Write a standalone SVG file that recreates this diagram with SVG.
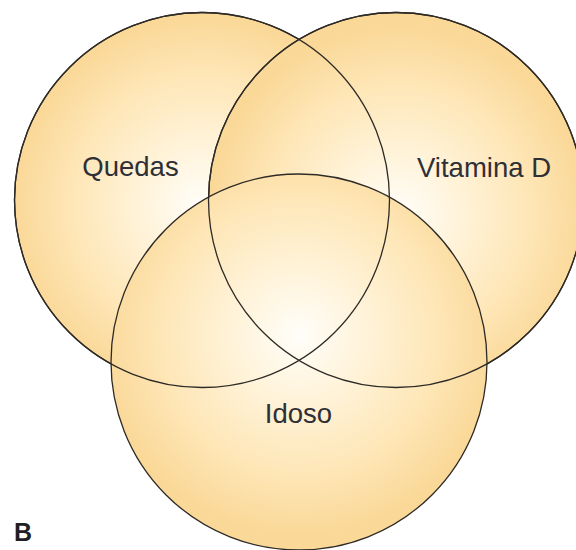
<svg xmlns="http://www.w3.org/2000/svg" width="576" height="550" viewBox="0 0 576 550">
  <style>
    .set { stroke: #2e2a26; stroke-width: 1.3; }
    .lbl { font-family: "Liberation Sans", Arial, sans-serif; font-size: 27.5px; fill: #2f2f36; text-anchor: middle; }
    .tag { font-family: "Liberation Sans", Arial, sans-serif; font-size: 25px; font-weight: bold; fill: #1f1f24; }
  </style>
  <defs>
    <radialGradient id="glowLeft" cx="202" cy="205" r="188" gradientUnits="userSpaceOnUse">
      <stop offset="0" stop-color="#fffefa"/>
      <stop offset="0.3" stop-color="#fff4dc"/>
      <stop offset="0.7" stop-color="#fee6b6"/>
      <stop offset="1" stop-color="#fad898"/>
    </radialGradient>
    <radialGradient id="glowRight" cx="398" cy="215" r="188" gradientUnits="userSpaceOnUse">
      <stop offset="0" stop-color="#fffefa"/>
      <stop offset="0.3" stop-color="#fff4dc"/>
      <stop offset="0.7" stop-color="#fee6b6"/>
      <stop offset="1" stop-color="#fad898"/>
    </radialGradient>
    <radialGradient id="glowBottom" cx="299" cy="335" r="200" gradientUnits="userSpaceOnUse">
      <stop offset="0" stop-color="#fffefa"/>
      <stop offset="0.3" stop-color="#fff4dc"/>
      <stop offset="0.7" stop-color="#fee6b6"/>
      <stop offset="1" stop-color="#fad898"/>
    </radialGradient>
  </defs>
  <rect width="576" height="550" fill="#ffffff"/>

  <g id="quedas">
    <circle class="set" cx="202" cy="200" r="187.5" fill="url(#glowLeft)"/>
  </g>
  <g id="vitamina-d">
    <circle class="set" cx="396" cy="200" r="187.5" fill="url(#glowRight)"/>
  </g>
  <g id="idoso">
    <circle class="set" cx="299" cy="362" r="188" fill="url(#glowBottom)"/>
  </g>
  <!-- outlines redrawn on top so every arc stays visible -->
  <g id="outlines" fill="none">
    <circle class="set" cx="202" cy="200" r="187.5"/>
    <circle class="set" cx="396" cy="200" r="187.5"/>
  </g>

  <g id="labels">
    <text class="lbl" x="130.5" y="176">Quedas</text>
    <text class="lbl" x="484" y="177">Vitamina D</text>
    <text class="lbl" x="298.5" y="423">Idoso</text>
    <text class="tag" x="14" y="541">B</text>
  </g>
</svg>
